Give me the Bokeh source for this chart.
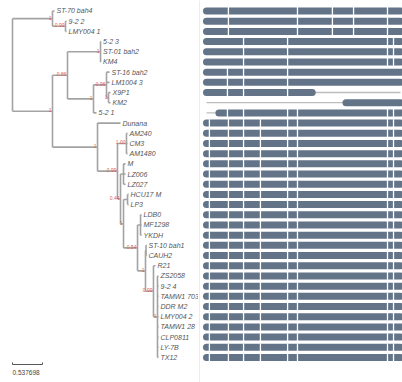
from bokeh.plotting import figure
from bokeh.models import Range1d, Span
from bokeh.layouts import row
from bokeh.embed import file_html
from bokeh.resources import INLINE
from bokeh.core.properties import value

# ---------------- tree data (preorder: parents before children) ----------------
node_names = ["root", "A", "ST-70 bah4", "A1", "9-2 2", "LMY004 1",
              "N1", "X", "B", "5-2 3", "ST-01 bah2", "KM4",
              "C", "C1", "ST-16 bah2", "LM1004 3", "C2", "X9P1", "KM2", "5-2 1",
              "Y", "Dunana", "Z", "Z1", "AM240", "CM3", "AM1480",
              "Z2", "Mc", "M", "LZ006", "LZ027",
              "W", "Hc", "HCU17 M", "LP3",
              "V", "Lc", "LDB0", "MF1298", "YKDH",
              "T", "Sc", "ST-10 bah1", "CAUH2",
              "S", "R21", "S2", "ZS2058", "9-2 4", "TAMW1 703", "DDR M2",
              "LMY004 2", "TAMW1 28", "CLP0811", "LY-7B", "TX12"]
node_parents = [None, "root", "A", "A", "A1", "A1",
                "root", "N1", "X", "B", "B", "B",
                "X", "C", "C1", "C1", "C1", "C2", "C2", "C",
                "N1", "Y", "Y", "Z", "Z1", "Z1", "Z1",
                "Z", "Z2", "Mc", "Mc", "Mc",
                "Z2", "W", "Hc", "Hc",
                "W", "V", "Lc", "Lc", "Lc",
                "V", "T", "Sc", "Sc",
                "T", "S", "S", "S2", "S2", "S2", "S2",
                "S2", "S2", "S2", "S2", "S2"]
branch_lengths = [0.0, 0.717, 0.036, 0.233, 0.018, 0.018,
                  0.717, 0.269, 0.592, 0.009, 0.009, 0.009,
                  0.466, 0.233, 0.054, 0.054, 0.036, 0.036, 0.036, 0.054,
                  0.807, 0.412, 0.358, 0.161, 0.018, 0.018, 0.018,
                  0.054, 0.054, 0.036, 0.036, 0.036,
                  0.054, 0.072, 0.018, 0.018,
                  0.251, 0.054, 0.018, 0.018, 0.018,
                  0.143, 0.009, 0.009, 0.009,
                  0.143, 0.036, 0.072, 0.018, 0.018, 0.018, 0.018,
                  0.018, 0.018, 0.018, 0.018, 0.018]
node_support = {"A": "1", "A1": "0.99", "N1": "1", "X": "0.86", "B": "1",
                "C": "1", "C1": "0.96", "C2": "1", "Y": "1", "Z": "0.99",
                "Z1": "1.00", "Z2": "0.44", "W": "1", "V": "0.54", "T": "1",
                "S": "0.99", "S2": "1"}
scale_length = 0.537698
scale_label = "0.537698"

# ---------------- alignment data (per leaf row) ----------------
aln_length = 1000
bar_start = [0, 0, 0, 0, 0, 0, 0, 0, 0, 719, 64] + [0] * 24
bar_end = [1000] * 8 + [545, 1000, 1000] + [1000] * 24
sep_sets = {
    "a": [113, 469, 649, 758, 933],
    "b": [191, 418, 933, 964],
    "c": [108, 191, 418],
    "d": [],
    "e": [108, 191, 418, 469, 933, 964],
    "f": [15, 113, 191, 278, 418, 469, 933, 964],
}
row_sep_set = ["a"] * 3 + ["b"] * 3 + ["c"] * 3 + ["d", "e"] + ["f"] * 24

# ---------------- layout computation ----------------
children = {n: [] for n in node_names}
for n, par in zip(node_names, node_parents):
    if par is not None:
        children[par].append(n)
depth = {}
for n, par, bl in zip(node_names, node_parents, branch_lengths):
    depth[n] = (depth[par] if par is not None else 0.0) + bl
ypos = {}
leaves = []
for n in node_names:
    if not children[n]:
        ypos[n] = len(leaves)
        leaves.append(n)
for n in reversed(node_names):
    if children[n]:
        cy = [ypos[c] for c in children[n]]
        ypos[n] = (min(cy) + max(cy)) / 2.0

n_rows = len(leaves)
y_top, y_bot = -1.03, 36.457

line_col = "#a3a3a3"

# ---------------- tree figure ----------------
p1 = figure(width=198, height=382, x_range=Range1d(-0.2151, 3.334),
            y_range=Range1d(y_bot, y_top), output_backend="svg",
            toolbar_location=None, min_border=0)
p1.axis.visible = False
p1.grid.visible = False
p1.outline_line_color = None

hx0, hx1, hy = [], [], []
for n, par in zip(node_names, node_parents):
    if par is not None:
        hx0.append(depth[par]); hx1.append(depth[n]); hy.append(ypos[n])
p1.segment(x0=hx0, x1=hx1, y0=hy, y1=hy, line_color=line_col, line_width=1.6)
vx, vy0, vy1 = [], [], []
for n in node_names:
    if children[n]:
        cy = [ypos[c] for c in children[n]]
        vx.append(depth[n]); vy0.append(min(cy)); vy1.append(max(cy))
p1.segment(x0=vx, x1=vx, y0=vy0, y1=vy1, line_color=line_col, line_width=1.6)

p1.text(x=[depth[l] for l in leaves], y=[ypos[l] for l in leaves], text=leaves,
        text_font=value("Liberation Sans"), text_font_style="italic",
        text_font_size="7px", text_color="#555555", text_baseline="middle",
        x_offset=2)

sn = [n for n in node_names if n in node_support]
p1.text(x=[depth[n] for n in sn], y=[ypos[n] for n in sn],
        text=[node_support[n] for n in sn],
        text_font=value("Liberation Sans"), text_font_size="5px",
        text_color="#e05a5a", text_align="right", text_baseline="middle",
        x_offset=-1, y_offset=-1)

sb_y = 34.69
p1.segment(x0=[0, 0, scale_length], x1=[scale_length, 0, scale_length],
           y0=[sb_y, sb_y - 0.2, sb_y - 0.2], y1=[sb_y, sb_y, sb_y],
           line_color="#555555", line_width=1)
p1.text(x=[0], y=[35.5], text=[scale_label], text_font=value("Liberation Sans"),
        text_font_size="6.5px", text_color="#444444", text_baseline="middle")

# ---------------- alignment figure ----------------
p2 = figure(width=204, height=382, x_range=Range1d(-41.2, 1010.3),
            y_range=Range1d(y_bot, y_top), output_backend="svg",
            toolbar_location=None, min_border=0)
p2.axis.visible = False
p2.grid.visible = False
p2.outline_line_color = None
p2.add_layout(Span(location=-36, dimension="height", line_color="#ececec", line_width=1))

rows = list(range(n_rows))
p2.segment(x0=[0] * n_rows, x1=[aln_length] * n_rows, y0=rows, y1=rows,
           line_color="#bdbdbd", line_width=1.3)
p2.segment(x0=bar_start, x1=bar_end, y0=rows, y1=rows, line_color="#637488",
           line_width=7, line_cap="round")
sx, sy0, sy1 = [], [], []
for r in rows:
    for s in sep_sets[row_sep_set[r]]:
        if bar_start[r] < s < bar_end[r]:
            sx.append(s); sy0.append(r - 0.38); sy1.append(r + 0.38)
p2.segment(x0=sx, x1=sx, y0=sy0, y1=sy1, line_color="white", line_width=1.3)

layout = row(p1, p2)
open("out.html", "w").write(file_html(layout, INLINE))
